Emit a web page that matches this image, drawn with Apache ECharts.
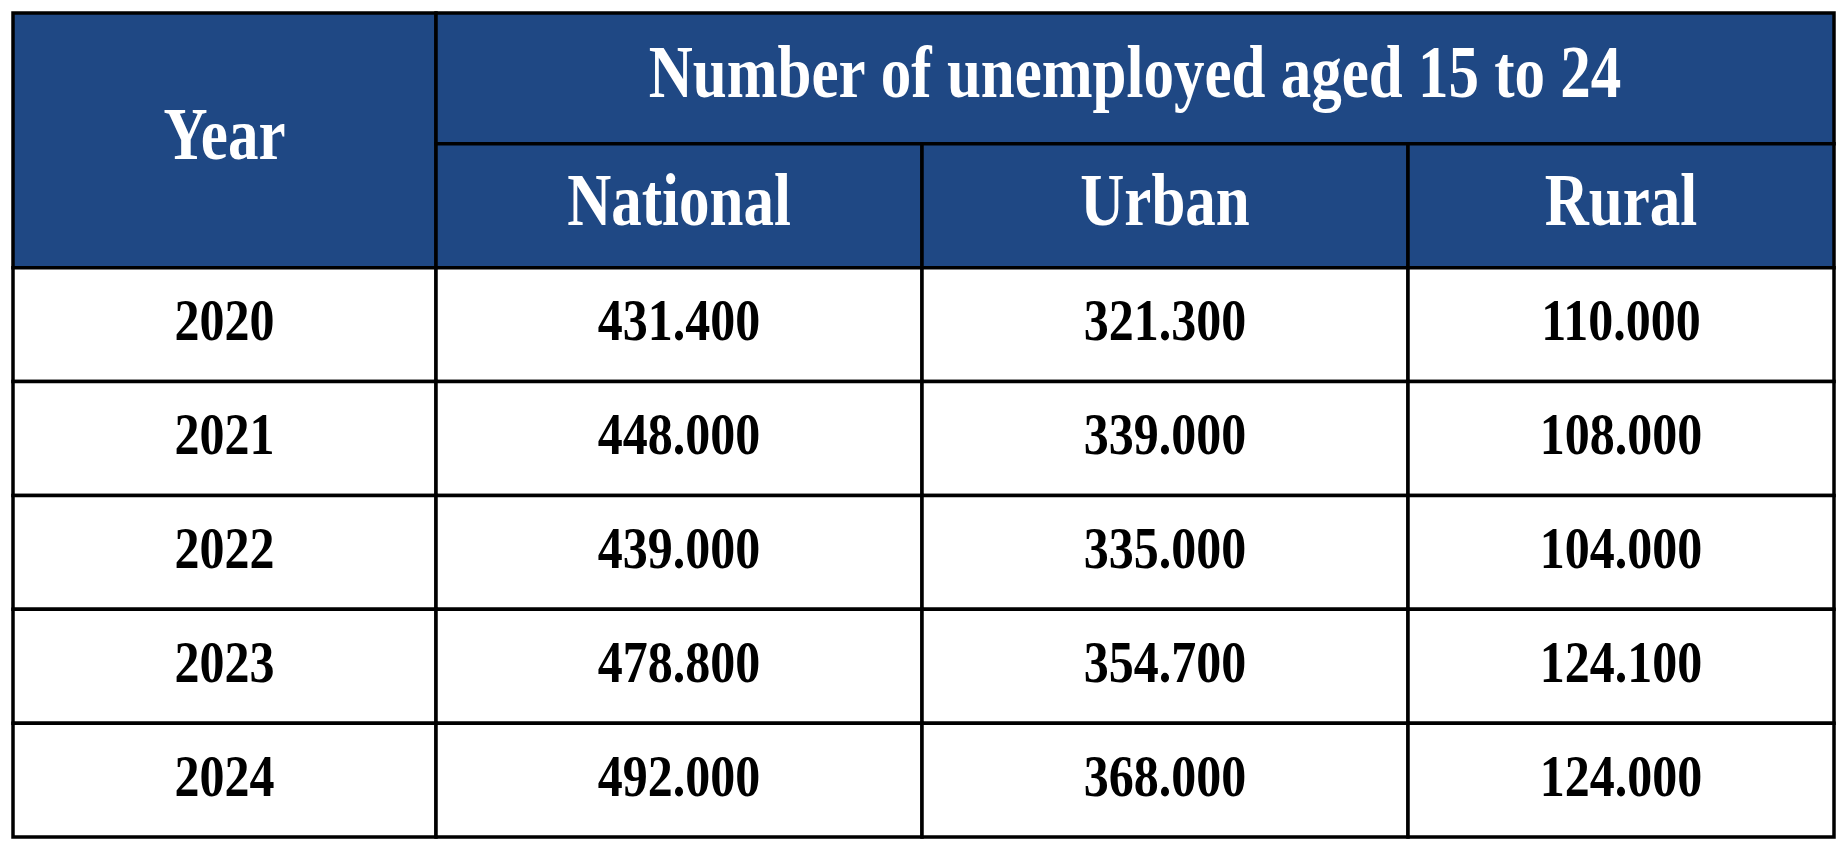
<!DOCTYPE html>
<html><head><meta charset="utf-8">
<script src="https://cdn.jsdelivr.net/npm/echarts@6/dist/echarts.min.js"></script>
<style>html,body{margin:0;padding:0;background:#fff}#c{width:1847px;height:852px}</style>
</head><body><div id="c"></div>
<script>
const title = 'Number of unemployed aged 15 to 24';
const yearHeader = 'Year';
const columns = ['National', 'Urban', 'Rural'];
const years = ['2020', '2021', '2022', '2023', '2024'];
const national = ['431.400', '448.000', '439.000', '478.800', '492.000'];
const urban = ['321.300', '339.000', '335.000', '354.700', '368.000'];
const rural = ['110.000', '108.000', '104.000', '124.100', '124.000'];

// layout (relative widths/heights)
const colW = [423, 486, 486, 426];
const rowH = [131, 124, 114, 114, 114, 114, 114];
const xEdge = [0]; colW.forEach(w => xEdge.push(xEdge[xEdge.length-1] + w));
const yEdge = [0]; rowH.forEach(h => yEdge.push(yEdge[yEdge.length-1] + h));
const HEAD = '#1f4884';

const cells = [];
function cell(c0, c1, r0, r1, text, head) {
  cells.push([xEdge[c0], xEdge[c1], yEdge[r0], yEdge[r1], text, head ? 1 : 0]);
}
cell(0, 1, 0, 2, yearHeader, true);
cell(1, 4, 0, 1, title, true);
columns.forEach((c, i) => cell(i + 1, i + 2, 1, 2, c, true));
const seriesCols = [national, urban, rural];
years.forEach((y, r) => {
  cell(0, 1, r + 2, r + 3, y, false);
  seriesCols.forEach((s, i) => cell(i + 1, i + 2, r + 2, r + 3, s[r], false));
});

const chart = echarts.init(document.getElementById('c'));
chart.setOption({
  animation: false,
  grid: { left: 13, right: 13, top: 13, bottom: 15 },
  xAxis: { type: 'value', min: 0, max: xEdge[xEdge.length-1], show: false },
  yAxis: { type: 'value', min: 0, max: yEdge[yEdge.length-1], inverse: true, show: false },
  series: [{
    type: 'custom',
    data: cells,
    renderItem: function (params, api) {
      const p0 = api.coord([api.value(0), api.value(2)]);
      const p1 = api.coord([api.value(1), api.value(3)]);
      const head = api.value(5) === 1;
      const text = cells[params.dataIndex][4];
      return {
        type: 'rect',
        shape: { x: p0[0], y: p0[1], width: p1[0] - p0[0], height: p1[1] - p0[1] },
        style: { fill: head ? HEAD : '#ffffff', stroke: '#000', lineWidth: 3.5 },
        textContent: {
          scaleY: 1.2,
          style: {
            text: text,
            fill: head ? '#ffffff' : '#000000',
            font: 'bold ' + (head ? 61 : 50) + 'px "Liberation Serif", "Times New Roman", serif'
          }
        },
        textConfig: { position: 'inside' }
      };
    }
  }]
});
</script></body></html>
